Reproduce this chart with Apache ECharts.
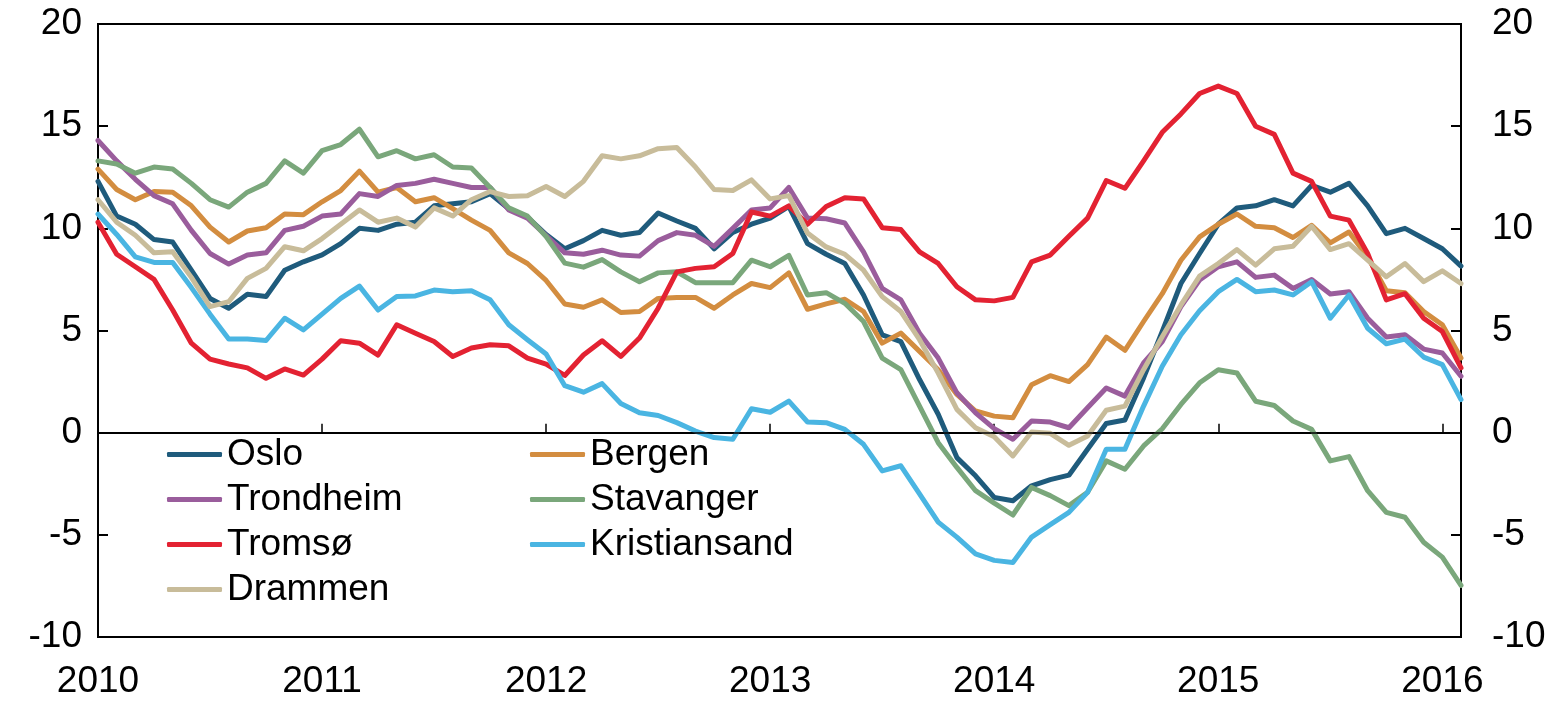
<!DOCTYPE html>
<html>
<head>
<meta charset="utf-8">
<title>Boligpriser</title>
<script src="https://cdn.jsdelivr.net/npm/echarts@6.0.0/dist/echarts.min.js"></script>
<style>
  html, body { margin: 0; padding: 0; background: #fff; }
  #chart { width: 1553px; height: 701px; }
</style>
</head>
<body>
<div id="chart"></div>
<script>
// tick labels (januar hvert år)
const years = ['2010', '2011', '2012', '2013', '2014', '2015', '2016']
// månedlige kategorier, jan 2010 - feb 2016
const categories = []
years.forEach(y => {
  for (let m = 1; m <= 12; m++) {
    if (y === '2016' && m > 2) break
    categories.push(y + '-' + (m < 10 ? '0' + m : m))
  }
})

// tolvmånedersvekst, prosent
const oslo = [12.3, 10.6, 10.2, 9.45, 9.33, 7.95, 6.57, 6.09, 6.77, 6.66, 7.95, 8.36, 8.7,
  9.25, 10.0, 9.9, 10.2, 10.3, 11.1, 11.2, 11.3, 11.7, 10.96, 10.55, 9.7,
  9.0, 9.4, 9.9, 9.66, 9.8, 10.75, 10.36, 10.0, 9.0, 9.8, 10.2, 10.5,
  11.07, 9.25, 8.73, 8.28, 6.74, 4.79, 4.46, 2.6, 0.9, -1.22, -2.11, -3.17,
  -3.33, -2.6, -2.3, -2.08, -0.81, 0.45, 0.62, 2.68, 4.95, 7.3, 8.77, 10.2,
  11.0, 11.1, 11.4, 11.1, 12.1, 11.77, 12.2, 11.1, 9.74, 10.0, 9.5, 9.0, 8.15]
const bergen = [12.9, 11.9, 11.4, 11.8, 11.77, 11.1, 10.06, 9.33, 9.87, 10.03, 10.7, 10.67, 11.3,
  11.85, 12.8, 11.77, 12.0, 11.3, 11.5, 10.96, 10.4, 9.9, 8.8, 8.28, 7.45,
  6.3, 6.14, 6.5, 5.88, 5.93, 6.57, 6.62, 6.62, 6.09, 6.74, 7.3, 7.1,
  7.82, 6.04, 6.3, 6.53, 5.93, 4.38, 4.87, 3.98, 3.08, 1.87, 1.06, 0.81,
  0.73, 2.35, 2.79, 2.5, 3.33, 4.68, 4.03, 5.44, 6.8, 8.44, 9.58, 10.2,
  10.7, 10.1, 10.03, 9.55, 10.15, 9.29, 9.82, 8.6, 6.95, 6.85, 5.93, 5.28, 3.65]
const trondheim = [14.3, 13.3, 12.4, 11.6, 11.2, 9.9, 8.77, 8.25, 8.69, 8.8, 9.9, 10.1, 10.6,
  10.7, 11.7, 11.56, 12.1, 12.2, 12.4, 12.2, 12.0, 12.0, 10.9, 10.5, 9.65,
  8.8, 8.73, 8.93, 8.69, 8.64, 9.4, 9.79, 9.66, 9.12, 10.0, 10.9, 11.0,
  12.0, 10.5, 10.47, 10.26, 8.85, 7.06, 6.5, 4.87, 3.65, 1.95, 0.97, 0.2,
  -0.32, 0.57, 0.52, 0.24, 1.22, 2.19, 1.79, 3.41, 4.46, 6.17, 7.47, 8.12,
  8.36, 7.6, 7.71, 7.06, 7.5, 6.79, 6.9, 5.6, 4.68, 4.79, 4.09, 3.9, 2.76]
const stavanger = [13.3, 13.15, 12.7, 13.0, 12.9, 12.2, 11.4, 11.04, 11.77, 12.2, 13.3, 12.7, 13.8,
  14.1, 14.85, 13.5, 13.8, 13.4, 13.6, 13.0, 12.95, 12.0, 11.0, 10.6, 9.6,
  8.3, 8.1, 8.47, 7.87, 7.39, 7.82, 7.87, 7.34, 7.34, 7.34, 8.44, 8.12,
  8.68, 6.74, 6.85, 6.33, 5.44, 3.65, 3.08, 1.3, -0.49, -1.7, -2.84, -3.45,
  -4.03, -2.68, -3.08, -3.57, -2.92, -1.38, -1.79, -0.65, 0.19, 1.38, 2.44, 3.08,
  2.92, 1.54, 1.33, 0.57, 0.16, -1.38, -1.17, -2.84, -3.9, -4.14, -5.36, -6.09, -7.47]
const tromso = [10.3, 8.73, 8.12, 7.5, 6.0, 4.38, 3.6, 3.36, 3.17, 2.66, 3.12, 2.82, 3.6,
  4.5, 4.38, 3.8, 5.28, 4.87, 4.46, 3.73, 4.14, 4.3, 4.25, 3.65, 3.35,
  2.8, 3.8, 4.5, 3.73, 4.63, 6.09, 7.87, 8.04, 8.12, 8.77, 10.8, 10.6,
  11.1, 10.2, 11.07, 11.5, 11.44, 10.03, 9.94, 8.85, 8.28, 7.14, 6.5, 6.45,
  6.62, 8.36, 8.69, 9.61, 10.5, 12.34, 11.96, 13.3, 14.7, 15.6, 16.6, 16.96,
  16.6, 15.0, 14.6, 12.7, 12.3, 10.6, 10.4, 8.77, 6.5, 6.8, 5.6, 4.95, 3.17]
const kristiansand = [10.7, 9.7, 8.6, 8.33, 8.33, 7.1, 5.8, 4.58, 4.58, 4.51, 5.6, 5.03, 5.8,
  6.57, 7.17, 6.0, 6.66, 6.69, 6.98, 6.9, 6.95, 6.5, 5.28, 4.55, 3.85,
  2.3, 1.98, 2.4, 1.43, 0.97, 0.84, 0.49, 0.08, -0.24, -0.32, 1.17, 1.0,
  1.54, 0.52, 0.49, 0.16, -0.57, -1.87, -1.62, -3.0, -4.38, -5.11, -5.93, -6.25,
  -6.35, -5.11, -4.5, -3.9, -2.92, -0.81, -0.81, 1.3, 3.25, 4.79, 5.97, 6.9,
  7.5, 6.9, 6.98, 6.74, 7.39, 5.6, 6.74, 5.11, 4.35, 4.58, 3.7, 3.33, 1.62]
const drammen = [11.4, 10.3, 9.66, 8.8, 8.85, 7.6, 6.17, 6.41, 7.55, 8.04, 9.1, 8.9, 9.5,
  10.2, 10.9, 10.3, 10.5, 10.06, 11.0, 10.6, 11.4, 11.8, 11.56, 11.6, 12.05,
  11.56, 12.3, 13.55, 13.4, 13.55, 13.9, 13.96, 13.0, 11.9, 11.85, 12.37, 11.44,
  11.6, 9.77, 9.09, 8.73, 7.95, 6.66, 5.93, 4.55, 2.92, 1.14, 0.24, -0.2,
  -1.14, 0.03, -0.03, -0.62, -0.16, 1.1, 1.3, 3.08, 4.7, 6.25, 7.66, 8.28,
  8.96, 8.2, 9.0, 9.12, 10.1, 8.96, 9.25, 8.44, 7.63, 8.28, 7.39, 7.92, 7.3]

const font = 'Liberation Sans, Arial, sans-serif'
const fontSize = 37

function line(name, data, color) {
  return {
    name: name,
    type: 'line',
    data: data,
    symbol: 'none',
    lineStyle: { color: color, width: 5, join: 'round', cap: 'round' },
    itemStyle: { color: color }
  }
}

const series = [
  line('Oslo', oslo, '#1f5b7c'),
  line('Bergen', bergen, '#d38d40'),
  line('Trondheim', trondheim, '#9a5d9c'),
  line('Stavanger', stavanger, '#7aa77b'),
  line('Tromsø', tromso, '#e32232'),
  line('Kristiansand', kristiansand, '#4ab5e2'),
  line('Drammen', drammen, '#c8bc9a')
]
// nullinje
series[0].markLine = {
  silent: true,
  symbol: 'none',
  label: { show: false },
  lineStyle: { color: '#000', width: 1.5, type: 'solid' },
  data: [{ yAxis: 0 }]
}

const legendBase = {
  orient: 'vertical',
  top: 436,
  padding: 0,
  itemWidth: 55,
  itemHeight: 5,
  itemGap: 8,
  icon: 'roundRect',
  textStyle: { fontFamily: font, fontSize: fontSize, color: '#000', lineHeight: 37 }
}

const yAxisBase = {
  type: 'value',
  min: -10,
  max: 20,
  interval: 5,
  axisLine: { show: true, lineStyle: { color: '#000', width: 2 } },
  axisTick: { show: true, inside: true, length: 10, lineStyle: { color: '#000', width: 2 } },
  splitLine: { show: false }
}

const chart = echarts.init(document.getElementById('chart'))
chart.setOption({
  animation: false,
  grid: {
    left: 98,
    right: 92,
    top: 24,
    bottom: 64,
    show: true,
    borderColor: '#000',
    borderWidth: 2,
    backgroundColor: 'transparent'
  },
  legend: [
    Object.assign({}, legendBase, { left: 167, data: ['Oslo', 'Trondheim', 'Tromsø', 'Drammen'] }),
    Object.assign({}, legendBase, { left: 530, data: ['Bergen', 'Stavanger', 'Kristiansand'] })
  ],
  xAxis: {
    type: 'category',
    data: categories,
    boundaryGap: false,
    axisLine: { lineStyle: { color: '#000', width: 2 } },
    axisTick: {
      inside: true,
      length: 9,
      lineStyle: { color: '#000', width: 1.5 },
      interval: (i, v) => v.slice(5) === '01'
    },
    axisLabel: {
      interval: (i, v) => v.slice(5) === '01',
      formatter: v => years[years.indexOf(v.slice(0, 4))],
      fontFamily: font,
      fontSize: fontSize,
      color: '#000',
      margin: 26
    },
    splitLine: { show: false }
  },
  yAxis: [
    Object.assign({}, yAxisBase, {
      position: 'left',
      axisLabel: { fontFamily: font, fontSize: fontSize, color: '#000', margin: 16 }
    }),
    Object.assign({}, yAxisBase, {
      position: 'right',
      axisLabel: { fontFamily: font, fontSize: fontSize, color: '#000', margin: 31 }
    })
  ],
  series: series
})
</script>
</body>
</html>
